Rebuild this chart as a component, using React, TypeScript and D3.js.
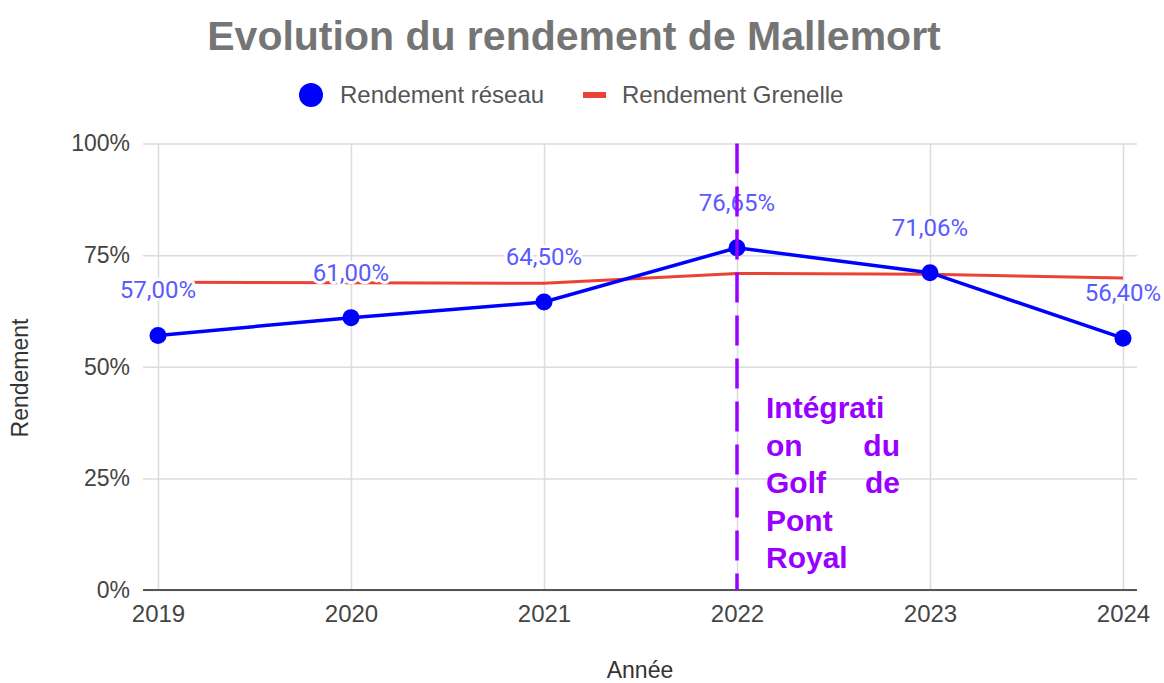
import React, { useEffect, useRef } from 'react';
import * as d3 from 'd3';

const years = ['2019', '2020', '2021', '2022', '2023', '2024'];
const rendementReseau = [57.0, 61.0, 64.5, 76.65, 71.06, 56.4];
const rendementGrenelle = [68.9, 68.8, 68.7, 70.9, 70.7, 69.9];
const yTicks = [0, 25, 50, 75, 100];
const markerYear = '2022';
const annotationLines = [['Intégrati'], ['on', 'du'], ['Golf', 'de'], ['Pont'], ['Royal']];

const W = 1164;
const H = 683;
const margin = { top: 143.5, right: 27, bottom: 93, left: 143 };
const FONT = "'Liberation Sans', Arial, sans-serif";

export default function App() {
  const ref = useRef<SVGSVGElement | null>(null);

  useEffect(() => {
    const svg = d3.select(ref.current);
    svg.selectAll('*').remove();

    const left = margin.left;
    const right = W - margin.right;
    const top = margin.top;
    const bottom = H - margin.bottom;

    const x = d3.scalePoint<string>().domain(years).range([158, 1123]);
    const y = d3.scaleLinear().domain([0, 100]).range([bottom, top]);

    // title
    svg
      .append('text')
      .attr('x', 574)
      .attr('y', 50)
      .attr('text-anchor', 'middle')
      .style('font-family', FONT)
      .style('font-weight', 'bold')
      .style('font-size', '41px')
      .attr('fill', '#757575')
      .text('Evolution du rendement de Mallemort');

    // legend
    const legend = svg.append('g').style('font-family', FONT).style('font-size', '24px');
    legend.append('circle').attr('cx', 311).attr('cy', 95).attr('r', 12).attr('fill', '#0000ff');
    legend.append('text').attr('x', 340).attr('y', 103).attr('fill', '#555').text('Rendement réseau');
    legend.append('rect').attr('x', 583).attr('y', 92).attr('width', 23).attr('height', 6).attr('fill', '#ea4335');
    legend.append('text').attr('x', 622).attr('y', 103).attr('fill', '#555').text('Rendement Grenelle');

    // y axis + horizontal grid
    const yAxis = svg
      .append('g')
      .attr('transform', `translate(${left},0)`)
      .call(
        d3
          .axisLeft(y)
          .tickValues(yTicks)
          .tickSize(-(right - left))
          .tickPadding(13)
          .tickFormat((d) => `${d}%`)
      );
    yAxis.select('.domain').remove();
    yAxis.selectAll('.tick line').attr('stroke', '#dcdcdc').attr('stroke-width', 1.5);
    yAxis
      .selectAll('.tick text')
      .attr('fill', '#444')
      .style('font-family', FONT)
      .style('font-size', '23px');

    // x axis + vertical grid
    const xAxis = svg
      .append('g')
      .attr('transform', `translate(0,${bottom})`)
      .call(d3.axisBottom(x).tickSize(-(bottom - top)).tickPadding(15));
    xAxis.select('.domain').remove();
    xAxis.selectAll('.tick line').attr('stroke', '#dcdcdc').attr('stroke-width', 1.5);
    xAxis
      .selectAll('.tick text')
      .attr('fill', '#444')
      .style('font-family', FONT)
      .style('font-size', '24px');

    // baseline
    svg
      .append('line')
      .attr('x1', left)
      .attr('x2', right)
      .attr('y1', y(0))
      .attr('y2', y(0))
      .attr('stroke', '#555')
      .attr('stroke-width', 2);

    // axis titles
    svg
      .append('text')
      .attr('transform', `translate(28,378) rotate(-90)`)
      .attr('text-anchor', 'middle')
      .style('font-family', FONT)
      .style('font-size', '23px')
      .attr('fill', '#333')
      .text('Rendement');
    svg
      .append('text')
      .attr('x', 640)
      .attr('y', 678)
      .attr('text-anchor', 'middle')
      .style('font-family', FONT)
      .style('font-size', '23px')
      .attr('fill', '#333')
      .text('Année');

    const line = d3
      .line<number>()
      .x((d, i) => x(years[i]) as number)
      .y((d) => y(d));

    svg
      .append('path')
      .datum(rendementGrenelle)
      .attr('fill', 'none')
      .attr('stroke', '#ea4335')
      .attr('stroke-width', 3)
      .attr('d', line);

    svg
      .append('path')
      .datum(rendementReseau)
      .attr('fill', 'none')
      .attr('stroke', '#0000ff')
      .attr('stroke-width', 3.5)
      .attr('d', line);

    svg
      .append('g')
      .selectAll('circle')
      .data(rendementReseau)
      .join('circle')
      .attr('cx', (d, i) => x(years[i]) as number)
      .attr('cy', (d) => y(d))
      .attr('r', 8.5)
      .attr('fill', '#0000ff');

    // data labels
    const fmt = d3.format('.2f');
    svg
      .append('g')
      .selectAll('text')
      .data(rendementReseau)
      .join('text')
      .attr('x', (d, i) => x(years[i]) as number)
      .attr('y', (d) => y(d) - 37)
      .attr('text-anchor', 'middle')
      .style('font-family', 'Roboto, sans-serif')
      .style('font-size', '24px')
      .attr('fill', '#5a5aff')
      .attr('stroke', '#fff')
      .attr('stroke-width', 6)
      .attr('stroke-linejoin', 'round')
      .attr('paint-order', 'stroke')
      .text((d) => `${fmt(d).replace('.', ',')}%`);

    // event marker
    const mx = x(markerYear) as number;
    svg
      .append('line')
      .attr('x1', mx)
      .attr('x2', mx)
      .attr('y1', top)
      .attr('y2', bottom)
      .attr('stroke', '#9900ff')
      .attr('stroke-width', 3.5)
      .attr('stroke-dasharray', '30 13');

    const note = svg
      .append('g')
      .style('font-family', FONT)
      .style('font-weight', 'bold')
      .style('font-size', '30px')
      .attr('fill', '#9900ff');
    annotationLines.forEach((words, i) => {
      const ly = 418 + i * 37.5;
      note.append('text').attr('x', 766).attr('y', ly).text(words[0]);
      if (words.length > 1) {
        note.append('text').attr('x', 900).attr('y', ly).attr('text-anchor', 'end').text(words[1]);
      }
    });
  }, []);

  return (
    <svg
      ref={ref}
      width={W}
      height={H}
      style={{ position: 'absolute', left: 0, top: 0, background: '#fff' }}
    />
  );
}
